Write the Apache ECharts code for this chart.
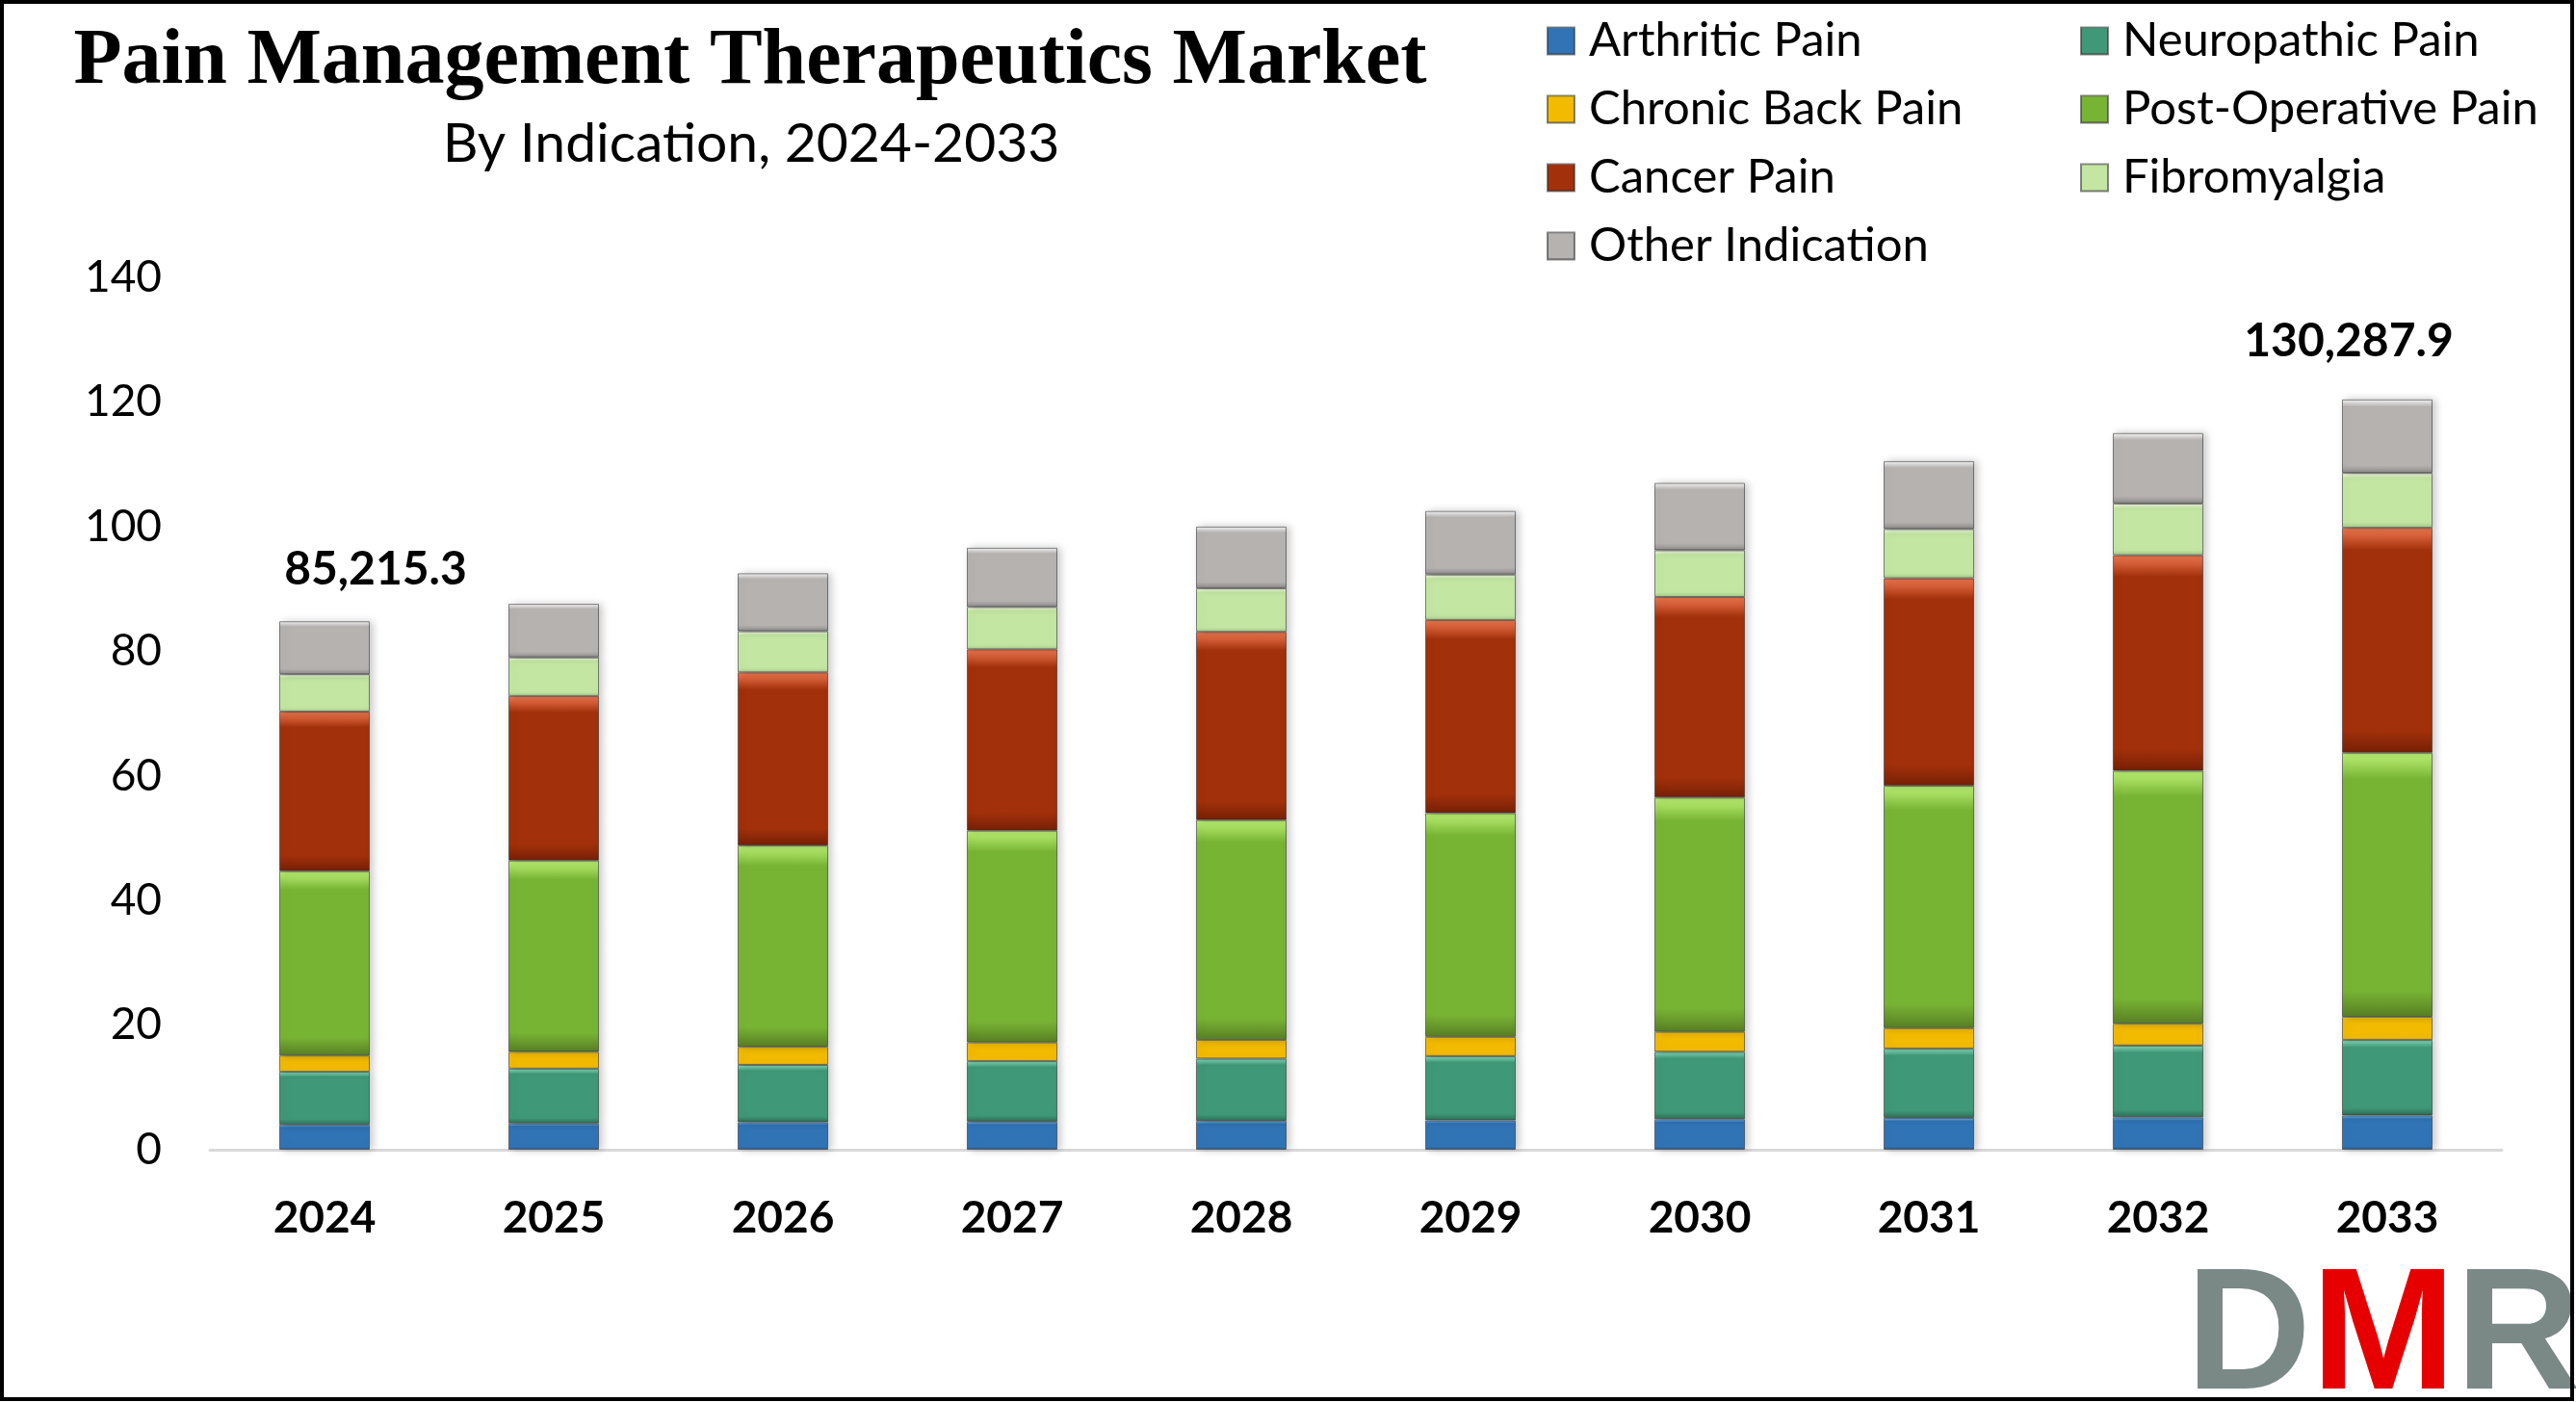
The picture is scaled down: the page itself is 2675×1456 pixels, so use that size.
<!DOCTYPE html>
<html>
<head>
<meta charset="utf-8">
<script src="https://cdn.jsdelivr.net/npm/echarts@6/dist/echarts.min.js"></script>
<style>
html,body{margin:0;padding:0;background:#fff;}
#chart{width:2675px;height:1456px;}
</style>
</head>
<body>
<div id="chart"></div>
<script>
const years = ['2024','2025','2026','2027','2028','2029','2030','2031','2032','2033'];
const arthritic      = [4.0, 4.2, 4.4, 4.5, 4.6, 4.7, 4.9, 5.1, 5.2, 5.5];
const neuropathic    = [8.5, 8.8, 9.2, 9.7, 10.0, 10.3, 10.8, 11.1, 11.5, 12.1];
const chronicBack    = [2.6, 2.7, 2.9, 3.0, 3.0, 3.1, 3.2, 3.3, 3.5, 3.7];
const postOperative  = [29.6, 30.7, 32.3, 34.0, 35.3, 35.9, 37.6, 38.9, 40.6, 42.4];
const cancer         = [25.6, 26.4, 27.8, 29.1, 30.2, 31.0, 32.2, 33.3, 34.6, 36.1];
const fibromyalgia   = [6.0, 6.2, 6.6, 6.8, 7.0, 7.3, 7.5, 7.9, 8.3, 8.8];
const otherIndication= [8.5, 8.6, 9.3, 9.5, 9.9, 10.2, 10.8, 10.9, 11.3, 11.8];
const totalLabels    = ['85,215.3', '', '', '', '', '', '', '', '', '130,287.9'];
const seriesNames = ['Arthritic Pain','Neuropathic Pain','Chronic Back Pain','Post-Operative Pain','Cancer Pain','Fibromyalgia','Other Indication'];

const palettes = [
  ['#7cc3fa', '#3174b6', '#235a90'],
  ['#8ae6c4', '#3f9877', '#2c6e56'],
  ['#fff04a', '#f2bb00', '#c89200'],
  ['#bdf276', '#78b434', '#587f24'],
  ['#f27a52', '#a2300a', '#772006'],
  ['#fbfff0', '#c3e6a2', '#a5c985'],
  ['#f7f7f7', '#b5b2b0', '#8c8988']
];
function grad(p){
  return new echarts.graphic.LinearGradient(0,0,0,1,[
    {offset:0, color:p[0]},{offset:0.1, color:p[1]},{offset:0.9, color:p[1]},{offset:1, color:p[2]}
  ]);
}
const seriesData = [arthritic, neuropathic, chronicBack, postOperative, cancer, fibromyalgia, otherIndication];

const labelTweaks = {0:{offset:[53,0], distance:30}, 9:{offset:[-40,0], distance:36}};

const series = seriesData.map((arr, si) => {
  const isTop = si === seriesData.length - 1;
  return {
    name: seriesNames[si],
    type: 'bar',
    stack: 'total',
    barWidth: 94,
    itemStyle: {
      color: grad(palettes[si]),
      borderColor: 'rgba(40,40,40,0.55)',
      borderWidth: 1,
      shadowColor: 'rgba(0,0,0,0.22)',
      shadowBlur: 8,
      shadowOffsetX: 3
    },
    data: arr.map((v, i) => {
      if (isTop && totalLabels[i]) {
        return {
          value: v,
          label: {
            show: true,
            position: 'top',
            formatter: totalLabels[i],
            offset: labelTweaks[i].offset,
            distance: labelTweaks[i].distance,
            fontFamily: 'Lato',
            fontWeight: 'bold',
            fontSize: 48,
            color: '#000'
          }
        };
      }
      return v;
    })
  };
});

const chart = echarts.init(document.getElementById('chart'), null, {renderer:'canvas'});
chart.setOption({
  backgroundColor: '#fff',
  animation: false,
  title: [
    {
      text: 'Pain Management Therapeutics Market',
      left: 774, top: 19, textAlign: 'center',
      textStyle: {fontFamily: 'Liberation Serif', fontWeight: 'bold', fontSize: 82, lineHeight: 82, color: '#000'}
    },
    {
      text: 'By Indication, 2024-2033',
      left: 775, top: 116, textAlign: 'center',
      textStyle: {fontFamily: 'Lato', fontWeight: 'normal', fontSize: 57, lineHeight: 58, color: '#000'}
    }
  ],
  legend: {
    data: seriesNames,
    left: 1606, top: 18, width: 1100,
    orient: 'horizontal',
    padding: 0,
    itemGap: 22,
    itemWidth: 28, itemHeight: 28,
    icon: 'rect',
    textStyle: {fontFamily: 'Lato', fontSize: 49, lineHeight: 48, color: '#000', width: 488, padding: [0,0,0,10]}
  },
  grid: {left: 218, right: 77, top: 288, bottom: 262, containLabel: false},
  xAxis: {
    type: 'category',
    data: years,
    axisLine: {show: true, lineStyle: {color: '#d9d9d9', width: 3}},
    axisTick: {show: false},
    axisLabel: {fontFamily: 'Lato', fontWeight: 'bold', fontSize: 46, color: '#000', margin: 48}
  },
  yAxis: {
    type: 'value',
    min: 0, max: 140, interval: 20,
    axisLine: {show: false},
    axisTick: {show: false},
    splitLine: {show: false},
    axisLabel: {fontFamily: 'Lato', fontSize: 46, color: '#000', margin: 50}
  },
  series: series,
  graphic: [
    {
      type: 'rect', silent: true, z: 100,
      shape: {x: 2, y: 2, width: 2669, height: 1451},
      style: {fill: 'none', stroke: '#000', lineWidth: 4}
    },
    {
      type: 'text', silent: true, z: 50,
      x: 2270, y: 1392,
      style: {
        text: '{d|D}{m|M}{r|R}',
        textVerticalAlign: 'middle',
        rich: {
          d: {fontFamily: 'Liberation Sans', fontWeight: 'bold', fontSize: 180, fill: '#7a8886'},
          m: {fontFamily: 'Liberation Sans', fontWeight: 'bold', fontSize: 180, fill: '#e60000'},
          r: {fontFamily: 'Liberation Sans', fontWeight: 'bold', fontSize: 180, fill: '#7a8886'}
        }
      }
    }
  ]
});
</script>
</body>
</html>
